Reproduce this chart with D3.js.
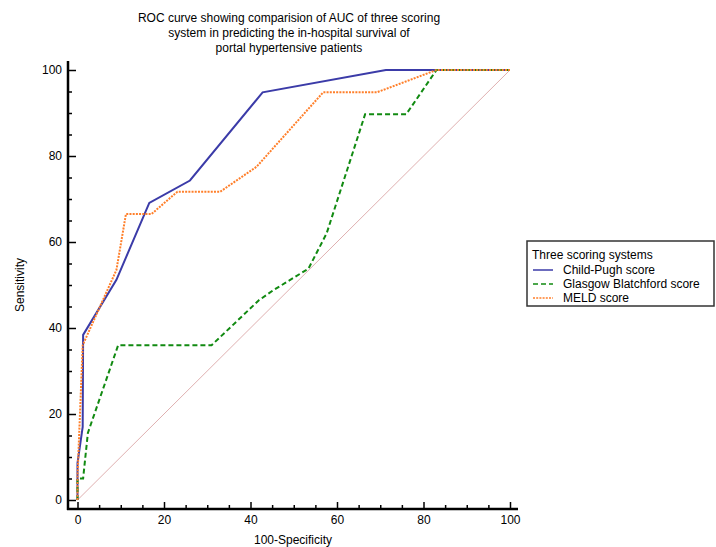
<!DOCTYPE html>
<html>
<head>
<meta charset="utf-8">
<script src="https://cdn.jsdelivr.net/npm/d3@7"></script>
<style>
  body { margin: 0; background: #fff; }
  text { font-family: "Liberation Sans", Arial, sans-serif; }
</style>
</head>
<body>
<div id="chart"></div>
<script>
// ROC points: [100-Specificity, Sensitivity]
var childPugh = [[0,0],[0,8.6],[1.2,17],[1.3,38.4],[9,51.2],[16.6,69.1],[26,74.3],[42.8,94.8],[71.3,100],[100,100]];
var glasgow = [[0,0],[0,5],[1.3,5],[2.4,15.6],[9.4,36],[31,36],[42,46.5],[45.3,48.8],[53.4,53.8],[57.6,62],[66.5,89.7],[76,89.7],[83,100],[100,100]];
var meld = [[0,0],[0,5.5],[1.2,36],[9,53.5],[11.2,66.5],[17.1,66.5],[23.1,71.7],[33,71.7],[41.4,77.5],[56.8,94.8],[69.2,94.8],[83,100],[100,100]];
var diagonal = [[0,0],[100,100]];

var seriesNames = ["Child-Pugh score", "Glasgow Blatchford score", "MELD score"];
var majorTicks = [0, 20, 40, 60, 80, 100];
var minorTicks = [5,10,15,25,30,35,45,50,55,65,70,75,85,90,95];
var titleLines = ["ROC curve showing comparision of AUC of three scoring",
                  "system in predicting the in-hospital survival of",
                  "portal hypertensive patients"];

var styles = [
  { data: childPugh, color: "#3b3ba8", dash: null, width: 2 },
  { data: glasgow, color: "#118a11", dash: "5,3", width: 2 },
  { data: meld, color: "#ff7f2a", dash: "2,1.2", width: 2 }
];

var svg = d3.select("#chart").append("svg").attr("width", 716).attr("height", 547);

var x = d3.scaleLinear().domain([0, 100]).range([77.5, 510]);
var y = d3.scaleLinear().domain([0, 100]).range([500, 70]);
var axisX = 68, axisY = 509;

// title
svg.append("g").selectAll("text").data(titleLines).enter().append("text")
  .attr("x", 289).attr("y", function(d, i) { return 22 + i * 15; })
  .attr("text-anchor", "middle").attr("font-size", "12px").text(function(d) { return d; });

// diagonal reference line
var line = d3.line().x(function(d) { return x(d[0]); }).y(function(d) { return y(d[1]); });
svg.append("path").attr("d", line(diagonal)).attr("fill", "none")
  .attr("stroke", "#dfb0b0").attr("stroke-width", 1);

styles.forEach(function(s) {
  svg.append("path").attr("d", line(s.data)).attr("fill", "none")
    .attr("stroke", s.color).attr("stroke-width", s.width)
    .attr("stroke-dasharray", s.dash);
});

// axes
var gx = svg.append("g").attr("transform", "translate(0," + axisY + ")");
gx.call(d3.axisBottom(x).tickValues(majorTicks).tickSize(-7).tickPadding(6));
gx.append("g").call(d3.axisBottom(x).tickValues(minorTicks).tickSize(-4).tickFormat(""));
gx.selectAll(".domain").remove();
gx.append("line").attr("x1", axisX - 1).attr("x2", 518).attr("stroke", "#000").attr("stroke-width", 2.5);

var gy = svg.append("g").attr("transform", "translate(" + axisX + ",0)");
gy.call(d3.axisLeft(y).tickValues(majorTicks).tickSize(-8).tickPadding(6));
gy.append("g").call(d3.axisLeft(y).tickValues(minorTicks).tickSize(-4).tickFormat(""));
gy.selectAll(".domain").remove();
gy.append("line").attr("y1", 61).attr("y2", axisY + 1).attr("stroke", "#000").attr("stroke-width", 2.5);

svg.selectAll(".tick line").attr("stroke", "#000").attr("stroke-width", 1.5);
svg.selectAll(".tick text").attr("font-size", "12px").attr("fill", "#000")
  .attr("font-family", "Liberation Sans, Arial, sans-serif");

// axis titles
svg.append("text").attr("x", 293).attr("y", 544).attr("text-anchor", "middle")
  .attr("font-size", "12px").text("100-Specificity");
svg.append("text").attr("transform", "translate(24,285) rotate(-90)").attr("text-anchor", "middle")
  .attr("font-size", "12px").text("Sensitivity");

// legend
var lg = svg.append("g").attr("transform", "translate(527,241)");
lg.append("rect").attr("width", 187).attr("height", 65).attr("fill", "#fff")
  .attr("stroke", "#333").attr("stroke-width", 1.5);
lg.append("text").attr("x", 5).attr("y", 18).attr("font-size", "12px").text("Three scoring systems");
styles.forEach(function(s, i) {
  var ly = 29 + i * 14;
  lg.append("line").attr("x1", 6).attr("x2", 26).attr("y1", ly).attr("y2", ly)
    .attr("stroke", s.color).attr("stroke-width", 1.5).attr("stroke-dasharray", s.dash);
  lg.append("text").attr("x", 36).attr("y", ly + 4).attr("font-size", "12px").text(seriesNames[i]);
});
</script>
</body>
</html>
